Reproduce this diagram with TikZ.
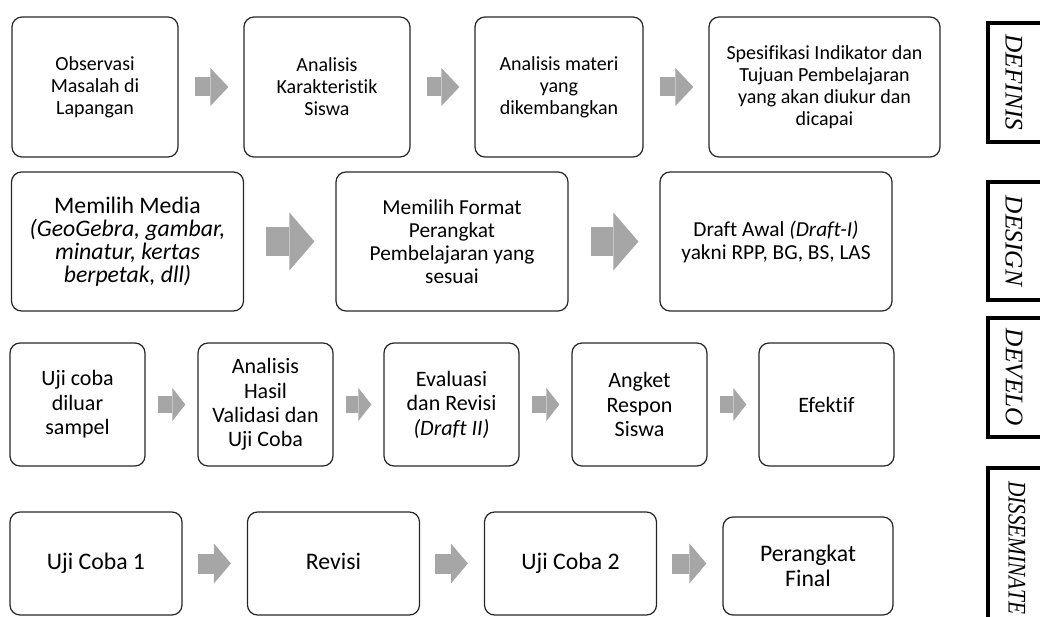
\documentclass[tikz,border=0pt]{standalone}
\usepackage{fontspec}
\setmainfont{Carlito}[Ligatures=NoCommon]
\newfontfamily\phasefont{Liberation Serif}
\usetikzlibrary{arrows.meta}
\definecolor{arrgray}{RGB}{166,166,166}
\definecolor{boxline}{RGB}{38,38,38}

\begin{document}
\begin{tikzpicture}[x=0.75pt,y=-0.75pt,
    stepbox/.style={draw=boxline, line width=0.9pt, rounded corners=7.5pt, align=center, inner sep=1pt},
    rowone/.style={stepbox, font=\fontsize{15}{16.5}\selectfont, minimum height=105pt},
    rowtwo/.style={stepbox, font=\fontsize{16}{17.2}\selectfont, minimum height=104.25pt, minimum width=174pt},
    rowthree/.style={stepbox, font=\fontsize{16.5}{18.3}\selectfont, minimum height=92.25pt, minimum width=101.25pt},
    rowfour/.style={stepbox, font=\fontsize{17.8}{19}\selectfont, minimum height=77.25pt, minimum width=129pt},
    oneline/.style={text height=12.5pt, text depth=4pt},
    nextarr/.style n args={3}{draw=arrgray, line width=#1, -{Triangle[width=#2, length=#3, line width=0pt]}},
    phaseframe/.style={draw=black, line width=2.6pt},
    phasetext/.style={font=\phasefont\itshape\fontsize{19}{19}\selectfont, rotate=-90, inner sep=0pt},
]
    \clip (0,0) rectangle (1040,617);
    % define
    \node[rowone, minimum width=124.5pt] (observasi) at (95,87) {Observasi\\Masalah di\\Lapangan};
    \node[rowone, minimum width=124.5pt] (karakter) at (327,87) {Analisis\\Karakteristik\\Siswa};
    \node[rowone, minimum width=126pt] (materi) at (559,87) {Analisis materi\\yang\\dikembangkan};
    \node[rowone, minimum width=173.25pt] (indikator) at (824.5,87) {Spesifikasi Indikator dan\\Tujuan Pembelajaran\\yang akan diukur dan\\dicapai};
    \draw[nextarr={14.25pt}{28.5pt}{13.5pt}, shorten <=12pt, shorten >=11.25pt] (observasi) -- (karakter);
    \draw[nextarr={14.25pt}{28.5pt}{13.5pt}, shorten <=12pt, shorten >=11.25pt] (karakter) -- (materi);
    \draw[nextarr={14.25pt}{28.5pt}{13.5pt}, shorten <=12pt, shorten >=11.25pt] (materi) -- (indikator);
    % design
    \node[rowtwo, font=\fontsize{17.8}{17.1}\selectfont] (media) at (127.5,241.5) {Memilih Media\\\textit{(GeoGebra, gambar,}\\\textit{minatur, kertas}\\\textit{berpetak, dll)}};
    \node[rowtwo] (format) at (452,241.5) {Memilih Format\\Perangkat\\Pembelajaran yang\\sesuai};
    \node[rowtwo] (draft) at (776,241.5) {Draft Awal \textit{(Draft-I)}\\yakni RPP, BG, BS, LAS};
    \draw[nextarr={21.75pt}{43.5pt}{18.75pt}, shorten <=16.5pt, shorten >=15.75pt] (media) -- (format);
    \draw[nextarr={21.75pt}{43.5pt}{18.75pt}, shorten <=16.5pt, shorten >=15.75pt] (format) -- (draft);
    % develop
    \node[rowthree] (ujiluar) at (77.5,404.5) {Uji coba\\diluar\\sampel};
    \node[rowthree] (validasi) at (265.5,404.5) {Analisis\\Hasil\\Validasi dan\\Uji Coba};
    \node[rowthree] (evaluasi) at (451.5,404.5) {Evaluasi\\dan Revisi\\\textit{(Draft II)}};
    \node[rowthree] (angket) at (639.5,404.5) {Angket\\Respon\\Siswa};
    \node[rowthree] (efektif) at (826.5,404.5) {Efektif};
    \draw[nextarr={12.4pt}{24.75pt}{9.75pt}, shorten <=9pt, shorten >=9pt] (ujiluar) -- (validasi);
    \draw[nextarr={12.4pt}{24.75pt}{9.75pt}, shorten <=9pt, shorten >=9pt] (validasi) -- (evaluasi);
    \draw[nextarr={12.4pt}{24.75pt}{9.75pt}, shorten <=9pt, shorten >=9pt] (evaluasi) -- (angket);
    \draw[nextarr={12.4pt}{24.75pt}{9.75pt}, shorten <=9pt, shorten >=9pt] (angket) -- (efektif);
    % disseminate
    \node[rowfour, oneline] (ujisatu) at (96,563.5) {Uji Coba 1};
    \node[rowfour, oneline] (revisi) at (333.5,563.5) {Revisi};
    \node[rowfour, oneline] (ujidua) at (570.5,563.5) {Uji Coba 2};
    \node[rowfour, minimum width=127.5pt, minimum height=73.5pt] (final) at (808,566) {Perangkat\\Final};
    \draw[nextarr={15pt}{30pt}{12.75pt}, shorten <=11.25pt, shorten >=12pt] (ujisatu) -- (revisi);
    \draw[nextarr={15pt}{30pt}{12.75pt}, shorten <=11.25pt, shorten >=12pt] (revisi) -- (ujidua);
    \draw[nextarr={15pt}{30pt}{12.75pt}, shorten <=11.25pt, shorten >=12pt] (ujidua.east) -- (ujidua.east -| final.west);
    % phase labels
    \draw[phaseframe] (988,23) rectangle (1070,142);
    \node[phasetext] (definis) at (1014,82.5) {DEFINIS};
    \draw[phaseframe] (988,182) rectangle (1070,300);
    \node[phasetext] (design) at (1014,241) {DESIGN};
    \draw[phaseframe] (988,318) rectangle (1070,437);
    \node[phasetext] (develo) at (1014,377.5) {DEVELO};
    \draw[phaseframe] (988,468) rectangle (1070,660);
    \node[phasetext, anchor=west, xscale=0.84] (dissem) at (1017,481) {DISSEMINATE};
\end{tikzpicture}
\end{document}
